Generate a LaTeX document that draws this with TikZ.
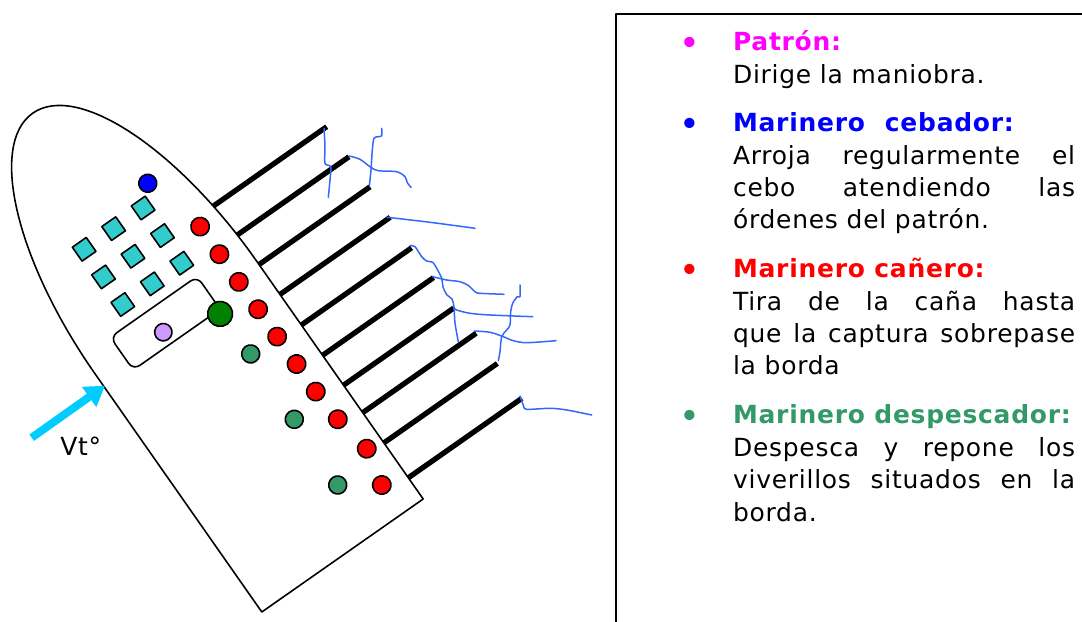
\documentclass[tikz,border=0pt]{standalone}
\usepackage{fontspec}
\setmainfont{DejaVu Sans}[LetterSpace=3]
\usetikzlibrary{arrows.meta}
\definecolor{azulSedal}{RGB}{51,102,255}
\definecolor{cianViento}{RGB}{0,204,255}
\definecolor{turquesa}{RGB}{51,204,204}
\definecolor{lila}{RGB}{204,153,255}
\definecolor{verdeMar}{RGB}{51,153,102}
\definecolor{verdeOsc}{RGB}{0,128,0}
\definecolor{magentaP}{RGB}{255,0,255}
\definecolor{azulC}{RGB}{0,0,255}
\definecolor{rojoC}{RGB}{255,0,0}
\begin{document}
\begin{tikzpicture}[x=0.2mm,y=0.2mm,line join=round,
	font=\fontsize{14.2}{18.4}\selectfont,
	casco/.style={draw=black,line width=0.9pt,fill=white},
	cana/.style={line width=3pt},
	sedal/.style={draw=azulSedal,line width=0.85pt,line cap=round},
	tripu/.style={draw=black,line width=0.9pt},
	cebobox/.style={tripu,fill=turquesa},
	viento/.style={draw=cianViento,line width=4.5pt,-{Triangle[width=4.7mm,length=3.9mm]}},
	caja/.style={line width=1.1pt},
	rol/.style={text width=68.4mm,align=justify,inner sep=0pt,anchor=base west},
	punto/.style={inner sep=0pt,anchor=base,font=\fontsize{20}{20}\selectfont}]
	\useasboundingbox (0,0) rectangle (1082,-622);
	\clip (0,0) rectangle (1082,-622);
	% barco, en ejes del casco
	\begin{scope}[shift={(342.5,-555.5)},rotate=35]
	\foreach \v/\e in {360.3/233,322.9/234,286.2/234,249.7/233,212.4/233,175.4/234,138.9/233,105.4/237,68.5/237,25.9/237}
		\draw[cana] (85,\v) -- (\e,\v);
	\draw[casco] (-98.5,0) -- (98.5,0) -- (98.5,290)
		arc[start angle=0,end angle=180,x radius=98.5,y radius=250] -- cycle;
	\draw[tripu,rounded corners=4.5pt] (-65,272) rectangle (41,312);
	\foreach \i in {-1,0,1}
		\foreach \j in {0,1,2}
			\draw[cebobox] ({36*\i-8.5},{399-33.7*\j-8.5}) rectangle +(17,17);
	\draw[tripu,fill=azulC] (54,416.6) circle (9);
	\foreach \u/\v in {72/351.1,72/317.4,72/283.6,72.1/250.1,72/216.8,72.2/183.2,72.1/149.6,74.3/114.3,81.1/73.6,72.6/35.2}
		\draw[tripu,fill=rojoC] (\u,\v) circle (9.2);
	\foreach \u/\v in {40.4/217.8,38.6/139.2,36.5/60.5}
		\draw[tripu,fill=verdeMar] (\u,\v) circle (9);
	\draw[tripu,fill=verdeOsc] (38.3,268.1) circle (12.5);
	\draw[tripu,fill=lila] (-18.7,285.7) circle (8.7);
	\end{scope}
	% sedales
	\draw[sedal] plot[smooth,tension=.5] coordinates {(324,-128.3) (325,-146.7) (325,-163.3) (330.7,-166.7) (330,-180) (328.3,-197.3)};
	\draw[sedal] plot[smooth,tension=.5] coordinates {(349.3,-156) (360,-159.3) (370,-166.7) (378.3,-170.7) (396.7,-171.7) (405,-176.7) (407.3,-182.7) (411,-187.3)};
	\draw[sedal] plot[smooth,tension=.5] coordinates {(369.3,-186) (371,-170) (372.3,-150) (374,-138.3) (378.3,-136.7) (381.7,-135.7) (381.7,-128.3)};
	\draw[sedal] plot[smooth,tension=.5] coordinates {(387.3,-217.3) (430,-222.3) (475,-228.3)};
	\draw[sedal] plot[smooth,tension=.5] coordinates {(410,-245.7) (415,-246.7) (421.7,-256.7) (426.7,-261) (432.7,-262.3) (436.7,-268.3) (441.7,-278.3) (443,-287) (447,-295) (452,-299) (454,-307) (455,-323) (458.3,-341.7)};
	\draw[sedal] plot[smooth,tension=.5] coordinates {(432.7,-276.7) (446.7,-280) (460,-281.7) (468.3,-285.5) (475,-291.7) (480,-293.3) (504,-294.3)};
	\draw[sedal] plot[smooth,tension=.5] coordinates {(453.3,-307.3) (456.7,-310) (470,-313.3) (490,-315) (532.7,-316.7)};
	\draw[sedal] plot[smooth,tension=.5] coordinates {(474,-331) (490,-332.3) (503.3,-336.7) (513.3,-340.7) (526.7,-342.7) (556,-340.7)};
	\draw[sedal] plot[smooth,tension=.5] coordinates {(498.3,-360.7) (500,-351.7) (501.7,-336.7) (506.7,-330) (510,-325) (510.7,-311.7) (512.7,-303.3) (517.3,-296.7) (520,-296.7) (520,-285)};
	\draw[sedal] plot[smooth,tension=.5] coordinates {(520,-396) (523.3,-405) (526.7,-409.3) (550,-408.3) (566.7,-410) (591.7,-415)};
	% viento
	\draw[viento] (31.7,-437.7) -- (105,-385.7);
	\node[anchor=base west,inner sep=0pt] (vto) at (60,-456) {Vt°};
	% leyenda
	\draw[caja] (615.7,-14) rectangle (1100,-640);
	\begin{scope}[every node/.append style={execute at begin node={\hyphenpenalty=10000\tolerance=9999}}]
	\node[punto,text=magentaP] (b1) at (690,-56) {•};
	\node[rol] (patron) at (732.7,-51) {{\bfseries\color{magentaP}Patrón:}\par Dirige la maniobra.};
	\node[punto,text=azulC] (b2) at (690,-136.7) {•};
	\node[rol] (cebador) at (732.7,-131.7) {{\bfseries\color{azulC}Marinero\hspace{0.8em}cebador:}\par Arroja regularmente el\linebreak cebo atendiendo las\linebreak órdenes del patrón.};
	\node[punto,text=rojoC] (b3) at (690,-282.7) {•};
	\node[rol] (canero) at (732.7,-277.7) {{\bfseries\color{rojoC}Marinero cañero:}\par Tira de la caña hasta\linebreak que la captura sobrepase\linebreak la borda};
	\node[punto,text=verdeMar] (b4) at (690,-429) {•};
	\node[rol] (despescador) at (732.7,-424) {{\bfseries\color{verdeMar}Marinero despescador:}\par Despesca y repone los\linebreak viverillos situados en la\linebreak borda.};
	\end{scope}
\end{tikzpicture}
\end{document}
